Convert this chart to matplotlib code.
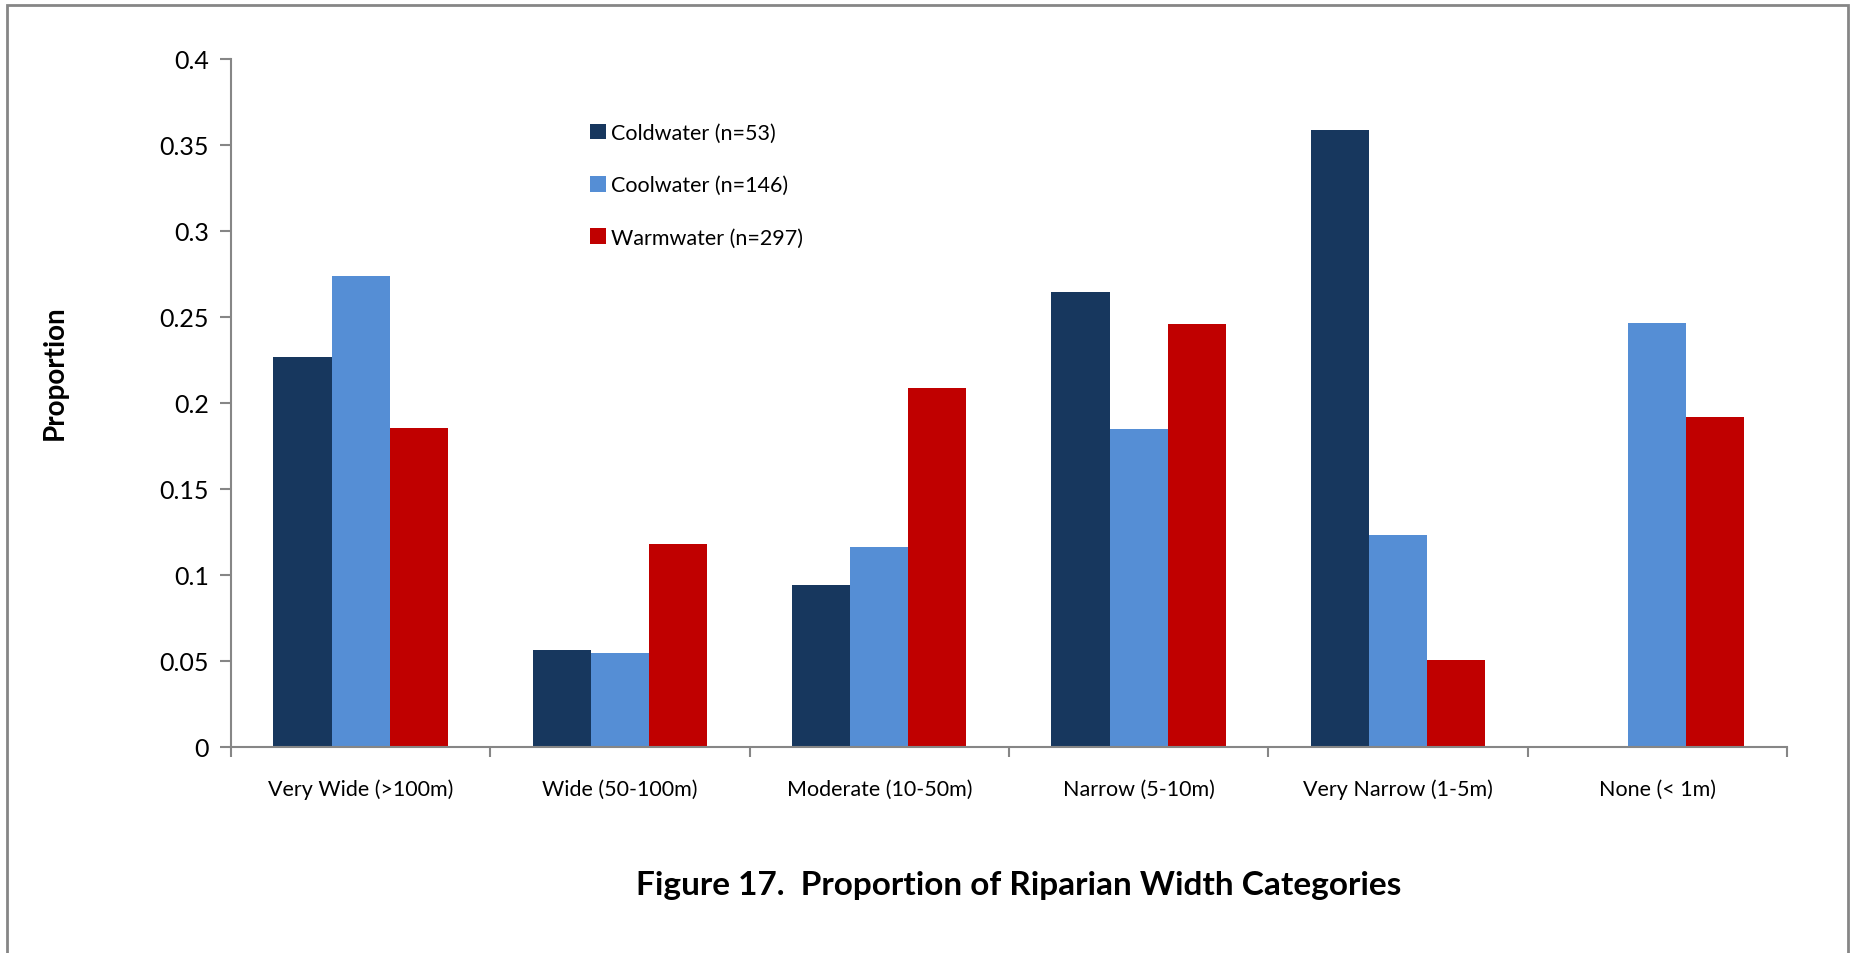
import numpy as np
import matplotlib
matplotlib.use("Agg")
import matplotlib.pyplot as plt
from matplotlib.patches import Rectangle
from matplotlib.ticker import FixedLocator

categories = ["Very Wide (>100m)", "Wide (50-100m)", "Moderate (10-50m)",
              "Narrow (5-10m)", "Very Narrow (1-5m)", "None (< 1m)"]
series_names = ["Coldwater (n=53)", "Coolwater (n=146)", "Warmwater (n=297)"]
coldwater = [0.2264, 0.0566, 0.0943, 0.2642, 0.3585, 0.0]
coolwater = [0.2740, 0.0548, 0.1164, 0.1849, 0.1233, 0.2466]
warmwater = [0.1852, 0.1178, 0.2088, 0.2458, 0.0505, 0.1919]
yticks = [0, 0.05, 0.1, 0.15, 0.2, 0.25, 0.3, 0.35, 0.4]
ytick_labels = ["0", "0.05", "0.1", "0.15", "0.2", "0.25", "0.3", "0.35", "0.4"]

colors = ["#17375E", "#558ED5", "#C00000"]
grey = "#868686"

plt.rcParams["font.family"] = ["Lato", "DejaVu Sans"]

fig = plt.figure(figsize=(18.55, 9.54), dpi=100)
ax = fig.add_axes([0.1245, 0.216, 0.8388, 0.7213])

x = np.arange(len(categories))
width = 0.224
for i, (vals, name) in enumerate(zip([coldwater, coolwater, warmwater], series_names)):
    ax.bar(x + (i - 1) * width, vals, width, color=colors[i], label=name, zorder=2)

ax.set_xlim(-0.5, len(categories) - 0.5)
ax.set_ylim(0, 0.4)
ax.set_yticks(yticks)
ax.set_yticklabels(ytick_labels)
ax.set_xticks(x)
ax.set_xticklabels(categories)
ax.xaxis.set_minor_locator(FixedLocator(np.arange(-0.5, len(categories), 1.0)))

ax.tick_params(axis="x", which="major", length=0, pad=23, labelsize=15.5)
ax.tick_params(axis="x", which="minor", length=7, width=1.5, color=grey, direction="out")
ax.tick_params(axis="y", length=8, width=1.5, color=grey, direction="out", pad=8, labelsize=18)

for side in ["top", "right"]:
    ax.spines[side].set_visible(False)
for side in ["left", "bottom"]:
    ax.spines[side].set_color(grey)
    ax.spines[side].set_linewidth(1.5)

ax.set_ylabel("Proportion", fontsize=20, fontweight="bold", labelpad=0)
ax.yaxis.set_label_coords(-0.105, 0.545)

leg = ax.legend(loc="upper left", bbox_to_anchor=(0.218, 0.935), frameon=False,
                fontsize=15.5, handlelength=0.75, handleheight=0.75,
                handletextpad=0.25, labelspacing=1.5)

fig.text(0.549, 0.072, "Figure 17.  Proportion of Riparian Width Categories",
         ha="center", va="center", fontsize=24, fontweight="bold")

# page border around the chart
fig.patches.append(Rectangle((7 / 1855, -0.01), (1848 - 7) / 1855, 1 - 6 / 954 + 0.01,
                             transform=fig.transFigure, fill=False,
                             edgecolor=grey, linewidth=2))

fig.savefig("out.png", dpi=100)
